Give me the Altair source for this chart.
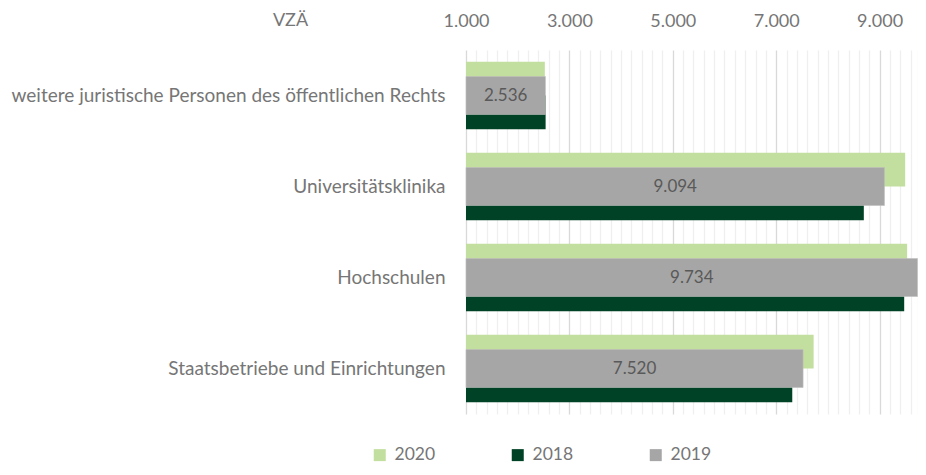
import altair as alt
import pandas as pd

categories = [
    "weitere juristische Personen des öffentlichen Rechts",
    "Universitätsklinika",
    "Hochschulen",
    "Staatsbetriebe und Einrichtungen",
]
years = ["2020", "2018", "2019"]
v2020 = [2525, 9495, 9533, 7724]
v2018 = [2540, 8695, 9476, 7311]
v2019 = [2536, 9094, 9734, 7520]
colors = ["#C3DF9F", "#004225", "#A6A6A6"]
x_min, x_max = 1000, 9743
grid_values = list(range(1000, 9801, 200))

rows = []
for year, vals in zip(years, [v2020, v2018, v2019]):
    for c, v in zip(categories, vals):
        rows.append({"category": c, "year": year, "value": v})
df = pd.DataFrame(rows)

FONT = "Lato"
TXT = "#767676"

y_enc = alt.Y(
    "category:N",
    sort=categories,
    scale=alt.Scale(paddingInner=0.256, paddingOuter=0.128),
    axis=alt.Axis(
        title=None, domain=False, ticks=False, labelPadding=21,
        labelFontSize=19, labelColor=TXT, labelFont=FONT, labelLimit=500,
    ),
)
x_enc = alt.X(
    "value:Q",
    scale=alt.Scale(domain=[x_min, x_max], zero=False, nice=False, clamp=True),
    axis=alt.Axis(
        orient="top",
        values=grid_values,
        tickCount=100,
        labelExpr="datum.value % 2000 == 1000 ? replace(format(datum.value, ','), ',', '.') : ''",
        domain=False, ticks=False, labelPadding=20,
        labelFontSize=18, labelColor=TXT, labelFont=FONT,
        labelFlush=False, labelOverlap=False,
        grid=True,
        gridColor={"condition": {"test": "datum.value % 2000 == 1000", "value": "#D9D9D9"}, "value": "#EFEFEF"},
        gridWidth=1.3,
        title="VZÄ", titleFont=FONT, titleFontSize=18, titleColor=TXT, titleFontWeight="normal",
        titleX=-176, titleY=-30, titleAlign="center", titleBaseline="middle", titleAngle=0,
    ),
)
color_enc = alt.Color(
    "year:N",
    scale=alt.Scale(domain=years, range=colors),
    legend=alt.Legend(
        title=None, orient="none", direction="horizontal",
        legendX=-95, legendY=396,
        symbolType="square", symbolSize=144, symbolStrokeWidth=0,
        labelFontSize=17.5, labelColor=TXT, labelFont=FONT, labelOffset=6,
        columnPadding=73,
    ),
)

base = alt.Chart(df)
pair = base.transform_filter("datum.year != '2019'").mark_bar().encode(
    y=y_enc, x=x_enc, color=color_enc,
    yOffset=alt.YOffset("year:N", sort=["2020", "2018"], scale=alt.Scale(paddingInner=0, paddingOuter=0)),
)
gray = base.transform_filter("datum.year == '2019'").mark_bar(height=38, stroke="#BFBFBF", strokeWidth=0.6).encode(
    y=y_enc, x=x_enc, color=color_enc,
)
labels = base.transform_filter("datum.year == '2019'").transform_calculate(
    mid=f"(datum.value + {x_min}) / 2",
    lbl="replace(format(datum.value, ','), ',', '.')",
).mark_text(fontSize=17, color="#595959", font=FONT, baseline="middle").encode(
    y=alt.Y("category:N", sort=categories), x=alt.X("mid:Q"), text="lbl:N",
)

chart = alt.layer(pair, gray, labels).properties(
    width=452, height=364,
    autosize=alt.AutoSizeParams(type="none"),
    padding={"left": 458, "top": 42, "right": 0, "bottom": 53},
).configure_view(stroke=None)

chart.save("out.html", embed_options={"renderer": "svg", "actions": False})
